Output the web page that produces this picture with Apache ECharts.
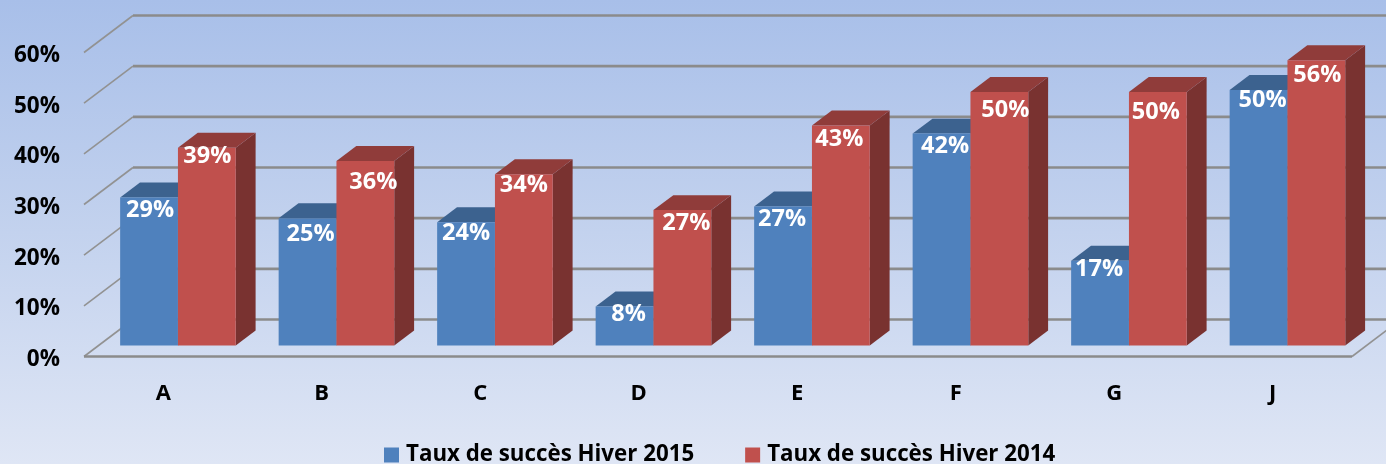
<!DOCTYPE html>
<html>
<head>
<meta charset="utf-8">
<style>html,body{margin:0;padding:0;background:#fff}#c{width:1386px;height:464px}</style>
<script src="https://cdn.jsdelivr.net/npm/echarts@6/dist/echarts.min.js"></script>
</head>
<body>
<div id="c"></div>
<script>
const categories = ['A','B','C','D','E','F','G','J'];
const hiver2015 = [29.2,25.1,24.3,7.7,27.4,41.8,16.7,50.4];
const hiver2014 = [39,36.4,33.8,26.7,43.4,50,50,56.3];
const yTicks = [0,10,20,30,40,50,60];
const seriesNames = ['Taux de succès Hiver 2015','Taux de succès Hiver 2014'];

const FONT = '"Open Sans", sans-serif';
// oblique projection of the 3D look (pixels)
const WALL_DX = 49, WALL_DY = -37;
const BAR_FRONT = 0.3, BAR_BACK = 0.705;
const BAR_WIDTH_RATIO = 0.3647;
const faces = [
  {front:'#4F81BD', top:'#3C628F', side:'#3C628F'},
  {front:'#C0504D', top:'#903C3A', side:'#793230'}
];
// hand placement of the value labels relative to the top-centre of each bar
const labelNudge = [
  [[1,12.5],[3,16],[0,11],[4,8],[-1,13],[3.5,13],[-1,9],[4,10]],
  [[0.5,9],[8,21],[0,11],[4,13],[-1.5,13.5],[6,18],[-2,20],[1,15]]
];

function renderWall(params, api){
  const cs = params.coordSys;
  const y = api.coord([0, api.value(0)])[1];
  const L = cs.x, R = cs.x + cs.width;
  const back = y + WALL_DY;
  const children = [
    {type:'line', shape:{x1:L,y1:y,x2:L+WALL_DX,y2:back}, style:{stroke:'#929292', lineWidth:1.6}, silent:true},
    {type:'line', shape:{x1:L+WALL_DX,y1:back,x2:R+WALL_DX,y2:back}, style:{stroke:'#8b8b8b', lineWidth:2.6}, silent:true}
  ];
  if (api.value(0) === 0) {
    children.push({type:'line', shape:{x1:L,y1:y,x2:R,y2:y}, style:{stroke:'#8b8b8b', lineWidth:2.6}, silent:true});
    children.push({type:'line', shape:{x1:R,y1:y,x2:R+WALL_DX,y2:back}, style:{stroke:'#929292', lineWidth:1.6}, silent:true});
  }
  return {type:'group', children};
}

function barRenderer(sIdx){
  return function(params, api){
    const c = faces[sIdx];
    const i = api.value(0), v = api.value(1);
    const band = api.size([1,0])[0];
    const w = band * BAR_WIDTH_RATIO;
    const cx = api.coord([i,0])[0];
    const base = api.coord([i,0])[1];
    const top = api.coord([i,v])[1];
    const fx = WALL_DX*BAR_FRONT, fy = WALL_DY*BAR_FRONT;
    const bx = WALL_DX*(BAR_BACK-BAR_FRONT), by = WALL_DY*(BAR_BACK-BAR_FRONT);
    const x0 = cx + fx + (sIdx===0 ? -w : 0), x1 = x0 + w;
    const yT = top + fy, yB = base + fy;
    const n = labelNudge[sIdx][i];
    return {type:'group', children:[
      {type:'polygon', shape:{points:[[x1,yT],[x1+bx,yT+by],[x1+bx,yB+by],[x1,yB]]}, style:{fill:c.side}},
      {type:'polygon', shape:{points:[[x0,yT],[x0+bx,yT+by],[x1+bx,yT+by],[x1,yT]]}, style:{fill:c.top}},
      {type:'rect', shape:{x:x0,y:yT,width:w,height:yB-yT}, style:{fill:c.front}},
      {type:'text', z2:50, style:{x:(x0+x1)/2+n[0], y:yT+n[1], text:Math.round(v)+'%', fill:'#fff',
        font:'700 23.5px '+FONT, align:'center', verticalAlign:'middle'}}
    ]};
  };
}

const chart = echarts.init(document.getElementById('c'), null, {renderer:'canvas'});
chart.setOption({
  animation:false,
  backgroundColor:new echarts.graphic.LinearGradient(0,0,0,1,[
    {offset:0,color:'#A8BFE9'},{offset:0.5,color:'#C3D2EE'},{offset:1,color:'#DFE6F5'}]),
  grid:{left:84,right:34,top:52.5,bottom:107.5},
  legend:{
    data:seriesNames, left:379, top:439, icon:'rect', itemWidth:15, itemHeight:15, itemGap:51,
    selectedMode:false,
    textStyle:{fontFamily:FONT,fontWeight:700,fontSize:22.3,color:'#000',padding:[0,0,0,2]}
  },
  xAxis:{type:'category',data:categories,axisLine:{show:false},axisTick:{show:false},splitLine:{show:false},
    axisLabel:{color:'#000',fontFamily:FONT,fontWeight:700,fontSize:22,margin:26}},
  yAxis:{type:'value',min:0,max:60,interval:10,axisLine:{show:false},axisTick:{show:false},splitLine:{show:false},
    axisLabel:{margin:24,formatter:'{t|{value}%}',
      rich:{t:{color:'#000',fontFamily:FONT,fontWeight:700,fontSize:22.5,padding:[6,0,0,0]}}}},
  series:[
    {type:'custom',name:'murs',z:1,clip:false,silent:true,renderItem:renderWall,
     data:yTicks.map(v=>[v]),encode:{x:-1,y:0}},
    {type:'custom',name:seriesNames[0],z:2,clip:false,itemStyle:{color:faces[0].front},renderItem:barRenderer(0),
     data:hiver2015.map((v,i)=>[i,v]),encode:{x:0,y:1}},
    {type:'custom',name:seriesNames[1],z:3,clip:false,itemStyle:{color:faces[1].front},renderItem:barRenderer(1),
     data:hiver2014.map((v,i)=>[i,v]),encode:{x:0,y:1}}
  ]
});
</script>
</body>
</html>
